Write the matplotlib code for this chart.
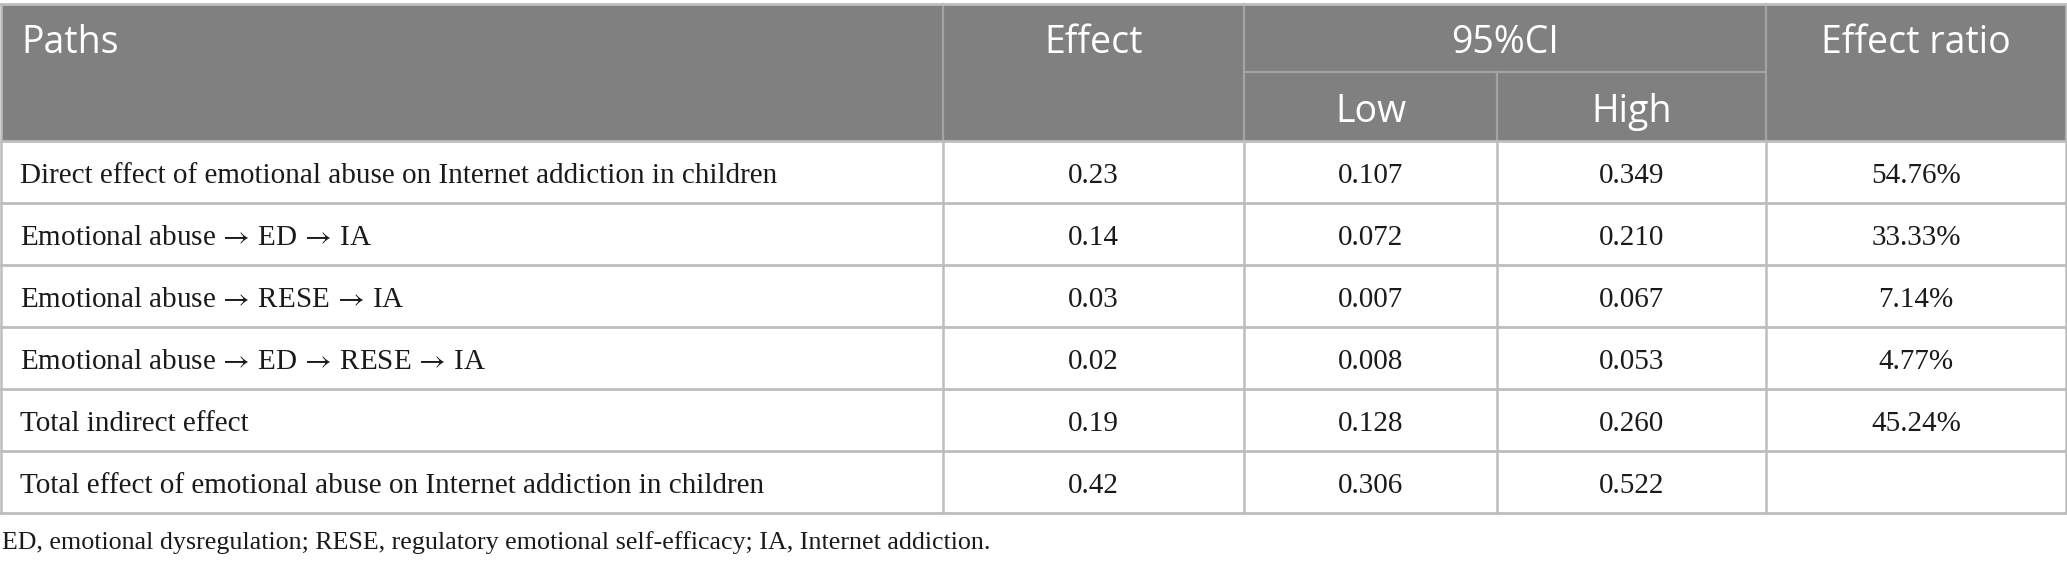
import matplotlib
matplotlib.use("Agg")
import matplotlib.pyplot as plt
from matplotlib.patches import Rectangle

# ---- data ----
paths = [
    "Direct effect of emotional abuse on Internet addiction in children",
    "Emotional abuse \u2192 ED \u2192 IA",
    "Emotional abuse \u2192 RESE \u2192 IA",
    "Emotional abuse \u2192 ED \u2192 RESE \u2192 IA",
    "Total indirect effect",
    "Total effect of emotional abuse on Internet addiction in children",
]
effect = ["0.23", "0.14", "0.03", "0.02", "0.19", "0.42"]
ci_low = ["0.107", "0.072", "0.007", "0.008", "0.128", "0.306"]
ci_high = ["0.349", "0.210", "0.067", "0.053", "0.260", "0.522"]
effect_ratio = ["54.76%", "33.33%", "7.14%", "4.77%", "45.24%", ""]
header_top = ["Paths", "Effect", "95%CI", "Effect ratio"]
header_sub = ["Low", "High"]
footnote = "ED, emotional dysregulation; RESE, regulatory emotional self-efficacy; IA, Internet addiction."

# ---- layout ----
W, H = 2067, 564
col_x = [1, 943, 1244, 1497, 1766, 2066]
top_y = 4
mid_y = 72
head_y = 141
row_h = 62

plt.rcParams["mathtext.fontset"] = "stix"

hdr_fill = "#7f807f"
hdr_line = "#a3a3a3"
grid = "#bdbdbd"
txt = "#1a1a1a"
hfont = ["Open Sans", "DejaVu Sans"]
bfont = ["Liberation Serif", "DejaVu Serif"]
hsize = 27
bsize = 21
fsize = 18.7

fig = plt.figure(figsize=(W / 100, H / 100), dpi=100)
ax = fig.add_axes([0, 0, 1, 1])
ax.set_xlim(0, W)
ax.set_ylim(H, 0)
ax.axis("off")

# header background
ax.add_patch(Rectangle((col_x[0], top_y), col_x[-1] - col_x[0], head_y - top_y,
                       facecolor=hdr_fill, edgecolor="none", zorder=0))
# header internal lines
for x in col_x[1:-1]:
    y0 = mid_y if x == col_x[3] else top_y
    ax.plot([x, x], [y0, head_y], color=hdr_line, lw=1.6, zorder=1)
ax.plot([col_x[2], col_x[4]], [mid_y, mid_y], color=hdr_line, lw=1.6, zorder=1)

# header texts
htop_base = 53
sub_base = 122
hkw = dict(color="white", fontsize=hsize, family=hfont, va="baseline")
ax.text(21, htop_base, header_top[0], ha="left", **hkw)
ax.text((col_x[1] + col_x[2]) / 2, htop_base, header_top[1], ha="center", **hkw)
ax.text((col_x[2] + col_x[4]) / 2, htop_base, header_top[2], ha="center", **hkw)
ax.text((col_x[4] + col_x[5]) / 2, htop_base, header_top[3], ha="center", **hkw)
ax.text((col_x[2] + col_x[3]) / 2, sub_base, header_sub[0], ha="center", **hkw)
ax.text((col_x[3] + col_x[4]) / 2, sub_base, header_sub[1], ha="center", **hkw)

# table outline and grid for body
n = len(paths)
bottom_y = head_y + n * row_h
ax.plot([col_x[0], col_x[-1]], [top_y, top_y], color=grid, lw=2, zorder=2)
for i in range(n + 1):
    y = head_y + i * row_h
    ax.plot([col_x[0], col_x[-1]], [y, y], color=grid, lw=2, zorder=2)
for x in col_x:
    y0 = top_y if x in (col_x[0], col_x[-1]) else head_y
    ax.plot([x, x], [y0, bottom_y], color=grid, lw=1.8, zorder=2)

# body texts
cols = [effect, ci_low, ci_high, effect_ratio]
bkw = dict(fontsize=bsize, family=bfont, color=txt, va="baseline")
for i in range(n):
    yb = head_y + i * row_h + 42
    label = paths[i].replace("\u2192", r"$\!\rightarrow\!$")
    ax.text(20, yb, label, ha="left", **bkw)
    for j, col in enumerate(cols):
        xc = (col_x[j + 1] + col_x[j + 2]) / 2
        ax.text(xc, yb, col[i], ha="center", **bkw)

# footnote
ax.text(2, 549, footnote, fontsize=fsize, family=bfont, color=txt,
        ha="left", va="baseline")

fig.savefig("out.png", dpi=100, facecolor="white")
